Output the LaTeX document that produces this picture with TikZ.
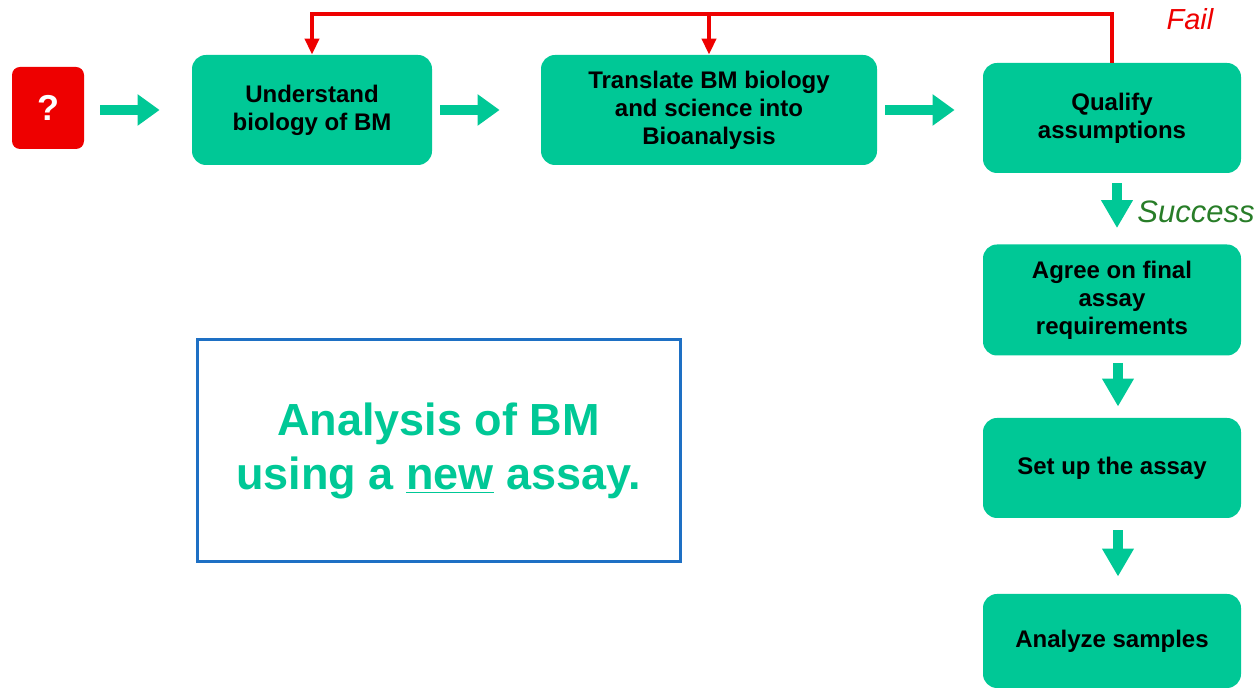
\documentclass[tikz,border=0pt]{standalone}
\usepackage{fontspec}
\setmainfont{Liberation Sans}
\usetikzlibrary{arrows.meta}
\definecolor{boxgreen}{RGB}{0,200,150}
\definecolor{failred}{RGB}{238,0,0}
\definecolor{frameblue}{RGB}{30,112,196}
\definecolor{okgreen}{RGB}{40,125,40}

\begin{document}
\begin{tikzpicture}[x=0.5pt,y=0.5pt,
  stepbox/.style={rectangle,rounded corners=7pt,fill=boxgreen,text=black,align=center,
    font=\fontsize{12}{14}\selectfont\bfseries,inner sep=0pt},
  flow/.style={draw=boxgreen,line width=5pt,-{Triangle[length=11pt,width=15pt]}},
  downflow/.style={draw=boxgreen,line width=5pt,-{Triangle[length=14pt,width=15pt]}},
  back/.style={draw=failred,line width=2pt,-{Triangle[length=8pt,width=7pt]}}]
\useasboundingbox (0,0) rectangle (1260,690);
\node[rectangle,rounded corners=4pt,fill=failred,minimum width=36pt,minimum height=41pt,
  text=white,font=\fontsize{18}{20}\selectfont\bfseries] (start) at (48,582) {?};
\node[stepbox,minimum width=120pt,minimum height=55pt] (under) at (312,580) {Understand\\biology of BM};
\node[stepbox,minimum width=168pt,minimum height=55pt] (trans) at (709,580) {Translate BM biology\\and science into\\Bioanalysis};
\node[stepbox,minimum width=129pt,minimum height=55pt] (qual) at (1112,572) {Qualify\\assumptions};
\node[stepbox,minimum width=129pt,minimum height=55.5pt] (agree) at (1112,390) {Agree on final\\assay\\requirements};
\node[stepbox,minimum width=129pt,minimum height=50pt] (setup) at (1112,222) {Set up the assay};
\node[stepbox,minimum width=129pt,minimum height=47pt] (analyze) at (1112,49) {Analyze samples};
\node[draw=frameblue,line width=1.5pt,minimum width=241.5pt,minimum height=111pt,text=boxgreen,
  align=center,font=\fontsize{22.5}{27}\selectfont\bfseries] (goal) at (438.5,239) {Analysis of BM\\using a \underline{new} assay.};
\node[text=failred,font=\fontsize{14.5}{18}\selectfont\itshape] (fail) at (1190,671) {Fail};
\node[text=okgreen,font=\fontsize{15.5}{18}\selectfont\itshape,anchor=west,inner sep=0pt] (ok) at (1137,478) {Success};
\coordinate (top) at (1112,676);
\draw[flow,shorten <=8pt,shorten >=16pt] (start.east |- under.west) -- (under.west);
\draw[flow,shorten <=4pt,shorten >=20.5pt] (under.east) -- (under.east -| trans.west);
\draw[flow,shorten <=4pt,shorten >=14pt] (trans.east) -- (trans.east -| qual.west);
\draw[downflow,shorten <=5pt,shorten >=8pt] ([xshift=2.5pt]qual.south) -- ([xshift=2.5pt]agree.north);
\draw[downflow,shorten <=3.5pt,shorten >=5.5pt] ([xshift=3pt]agree.south) -- ([xshift=3pt]setup.north);
\draw[downflow,shorten <=6pt,shorten >=8.5pt] ([xshift=3pt]setup.south) -- ([xshift=3pt]analyze.north);
\draw[back] (qual.north) -- (top) -| (under.north);
\draw[back] (trans.north |- top) -- (trans.north);
\end{tikzpicture}
\end{document}
